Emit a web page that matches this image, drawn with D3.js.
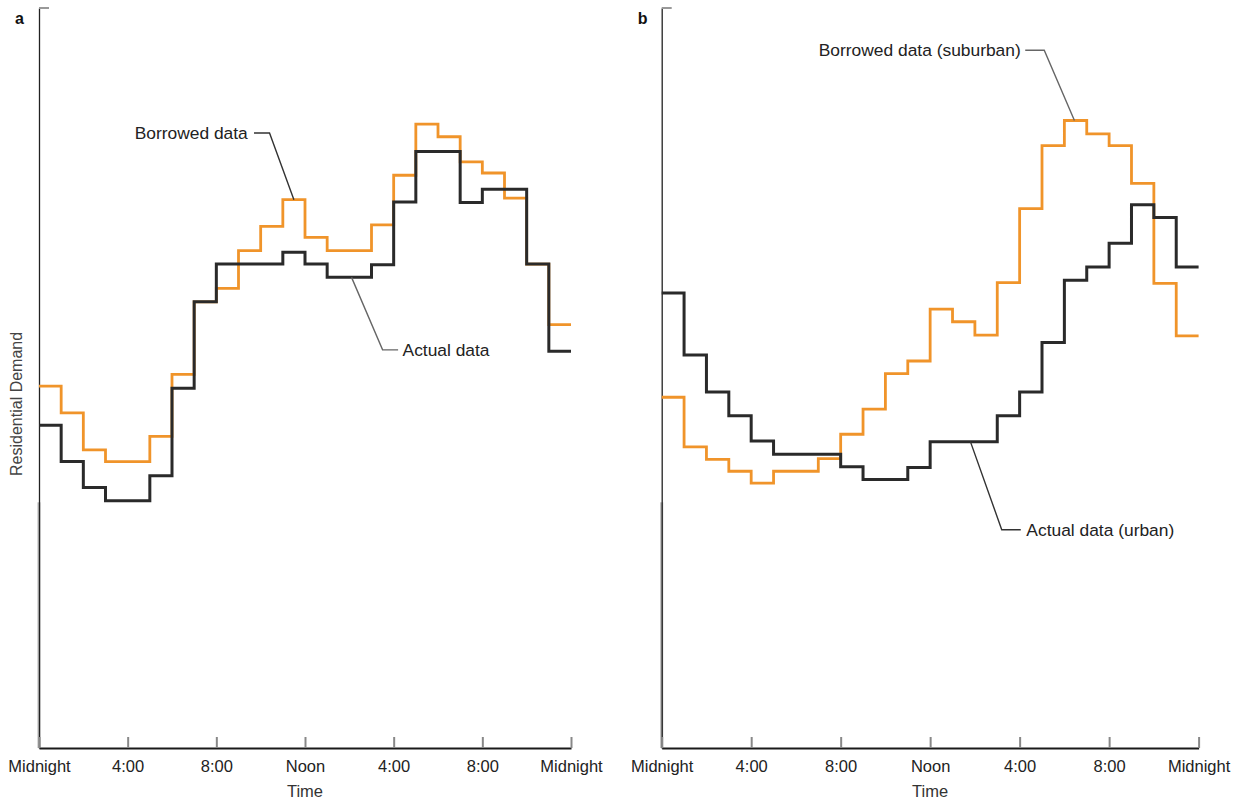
<!DOCTYPE html>
<html>
<head>
<meta charset="utf-8">
<script src="https://cdn.jsdelivr.net/npm/d3@7/dist/d3.min.js"></script>
<style>
  html, body { margin: 0; padding: 0; background: #ffffff; }
  svg { display: block; }
  text { font-family: "Liberation Sans", Arial, Helvetica, sans-serif; }
</style>
</head>
<body>
<script>
// ---------- data ----------
const hours = d3.range(0, 24);                         // hourly steps
const tickHours = [0, 4, 8, 12, 16, 20, 24];
const tickLabels = ["Midnight", "4:00", "8:00", "Noon", "4:00", "8:00", "Midnight"];

// Panel a
const borrowedA = [48.9, 45.3, 40.3, 38.7, 38.7, 42.1, 50.5, 60.3, 62.1, 67.2, 70.5, 74.1,
                   69.0, 67.2, 67.2, 70.7, 77.4, 84.3, 82.6, 79.2, 77.7, 74.3, 65.4, 57.2];
const actualA   = [43.6, 38.7, 35.2, 33.4, 33.4, 36.8, 48.6, 60.3, 65.4, 65.4, 65.4, 67.0,
                   65.4, 63.6, 63.6, 65.3, 73.8, 80.6, 80.6, 73.7, 75.5, 75.5, 65.4, 53.6];
// Panel b
const borrowedB = [47.4, 40.7, 39.0, 37.4, 35.8, 37.4, 37.4, 39.1, 42.4, 45.8, 50.6, 52.3,
                   59.3, 57.6, 55.8, 62.9, 72.9, 81.4, 84.8, 83.0, 81.4, 76.3, 62.8, 55.7];
const actualB   = [61.5, 53.1, 48.1, 44.9, 41.5, 39.7, 39.7, 39.7, 38.0, 36.3, 36.3, 37.9,
                   41.4, 41.4, 41.4, 44.9, 48.1, 54.8, 63.2, 65.0, 68.2, 73.4, 71.7, 65.0];

const labelsA = { borrowed: "Borrowed data", actual: "Actual data" };
const labelsB = { borrowed: "Borrowed data (suburban)", actual: "Actual data (urban)" };

// ---------- layout ----------
const W = 1239, H = 803;
const ORANGE = "#f0942a", DARK = "#2a2a2a";

const svg = d3.select("body").append("svg").attr("width", W).attr("height", H);

const yScale = d3.scaleLinear().domain([0, 100]).range([748, 8]);

function stepData(vals) {
  const pts = vals.map((v, i) => [hours[i], v]);
  pts.push([24, vals[vals.length - 1]]);
  return pts;
}

function panel(opts) {
  const { x0, x1, letter, borrowed, actual, ann, showYTitle } = opts;
  const x = d3.scaleLinear().domain([0, 24]).range([x0, x1]);
  const y = yScale;
  const g = svg.append("g");

  // lower gray band on y axis (scan artifact of original)
  g.append("line").attr("x1", x0).attr("x2", x0).attr("y1", y(33.2)).attr("y2", y(0))
    .attr("stroke", "#b5b5b5").attr("stroke-width", 3);

  // y axis
  const yAxis = g.append("g").attr("transform", `translate(${x0},0)`)
    .call(d3.axisLeft(y).tickValues([]).tickSizeOuter(0));
  yAxis.select(".domain").attr("stroke", "#222").attr("stroke-width", 1.3);
  // top tick
  g.append("line").attr("x1", x0).attr("x2", x0 + 10).attr("y1", y(100)).attr("y2", y(100))
    .attr("stroke", "#999").attr("stroke-width", 2);

  // x axis
  const xAxis = g.append("g").attr("transform", `translate(0,${y(0)})`)
    .call(d3.axisBottom(x).tickValues(tickHours)
      .tickFormat((d, i) => tickLabels[i]).tickSizeInner(-11).tickSizeOuter(0).tickPadding(12));
  xAxis.select(".domain").attr("stroke", "#1a1a1a").attr("stroke-width", 2);
  xAxis.selectAll(".tick line").attr("stroke", "#888").attr("stroke-width", 2);
  xAxis.selectAll(".tick text").attr("font-size", 16.5).attr("fill", "#222")
    .attr("font-family", "Liberation Sans, Arial, sans-serif");

  // axis title
  g.append("text").attr("x", x(12)).attr("y", 797).attr("text-anchor", "middle")
    .attr("font-size", 16.5).attr("fill", "#333").text("Time");

  // panel letter
  g.append("text").attr("x", x0 - 24).attr("y", 24).attr("font-size", 16)
    .attr("font-weight", "bold").attr("fill", "#111").text(letter);

  if (showYTitle) {
    g.append("text").attr("transform", `translate(${x0 - 17},${y(46.5)}) rotate(-90)`)
      .attr("text-anchor", "middle").attr("font-size", 16).attr("fill", "#444")
      .text("Residential Demand");
  }

  // step lines
  const line = d3.line().x(d => x(d[0])).y(d => y(d[1])).curve(d3.curveStepAfter);
  g.append("path").datum(stepData(borrowed)).attr("d", line)
    .attr("fill", "none").attr("stroke", ORANGE).attr("stroke-width", 2.8);
  g.append("path").datum(stepData(actual)).attr("d", line)
    .attr("fill", "none").attr("stroke", DARK).attr("stroke-width", 3);

  // annotations
  ann.forEach(a => {
    const pts = a.leader.map(p => [x(p[0]), y(p[1])]);
    g.append("path").attr("d", d3.line()(pts)).attr("fill", "none")
      .attr("stroke", a.stroke).attr("stroke-width", 1.4);
    g.append("text").attr("x", x(a.text[0])).attr("y", y(a.text[1]))
      .attr("dy", "0.35em").attr("text-anchor", a.anchor)
      .attr("font-size", 17.4).attr("fill", "#222").text(a.label);
  });
}

panel({
  x0: 39, x1: 571, letter: "a", borrowed: borrowedA, actual: actualA, showYTitle: true,
  ann: [
    { label: labelsA.borrowed, anchor: "end", text: [9.42, 83.1], stroke: "#333",
      leader: [[9.7, 83.1], [10.4, 83.1], [11.5, borrowedA[11]]] },
    { label: labelsA.actual, anchor: "start", text: [16.4, 53.8], stroke: "#666",
      leader: [[14.1, actualA[13]], [15.5, 53.8], [16.2, 53.8]] }
  ]
});

panel({
  x0: 661.7, x1: 1198.6, letter: "b", borrowed: borrowedB, actual: actualB, showYTitle: false,
  ann: [
    { label: labelsB.borrowed, anchor: "end", text: [16.05, 94.3], stroke: "#666",
      leader: [[16.25, 94.3], [17.1, 94.3], [18.45, borrowedB[18]]] },
    { label: labelsB.actual, anchor: "start", text: [16.3, 29.5], stroke: "#333",
      leader: [[13.8, actualB[13]], [15.2, 29.5], [16.05, 29.5]] }
  ]
});
</script>
</body>
</html>
